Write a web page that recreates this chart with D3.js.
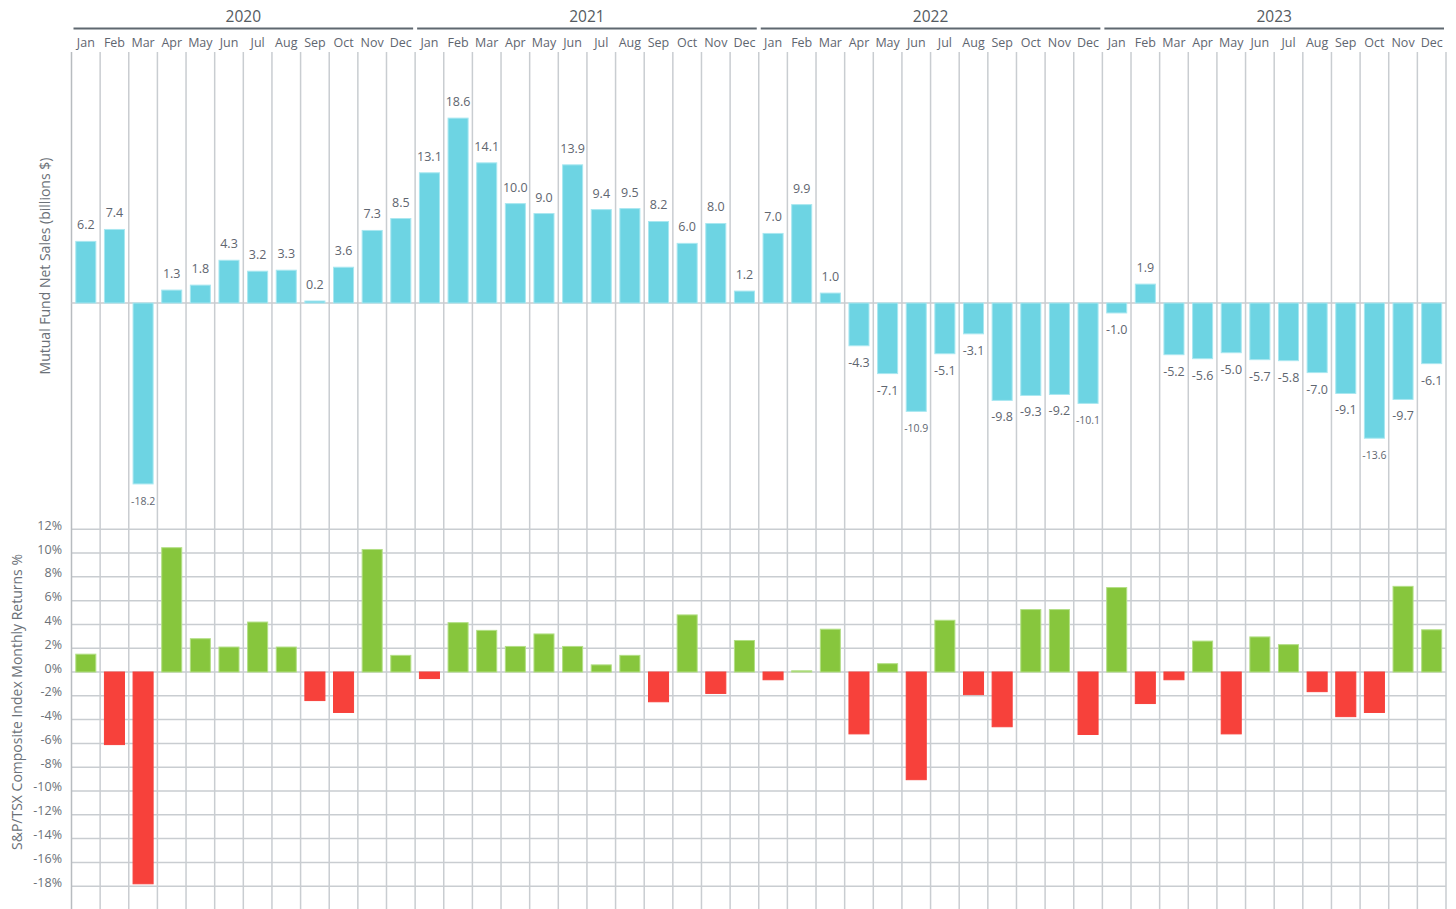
<!DOCTYPE html>
<html>
<head>
<meta charset="utf-8">
<script src="https://cdn.jsdelivr.net/npm/d3@7"></script>
<style>
  body { margin: 0; background: #fff; }
  svg text { font-family: "Open Sans", "Noto Sans", sans-serif; }
</style>
</head>
<body>
<svg id="chart" width="1456" height="909"></svg>
<script>
// data
const years = ['2020', '2021', '2022', '2023'];
const months = ['Jan', 'Feb', 'Mar', 'Apr', 'May', 'Jun', 'Jul', 'Aug', 'Sep', 'Oct', 'Nov', 'Dec'];

// mutual fund net sales, billions $
const netSales = [
  6.2, 7.4, -18.2, 1.3, 1.8, 4.3, 3.2, 3.3, 0.2, 3.6, 7.3, 8.5,
  13.1, 18.6, 14.1, 10.0, 9.0, 13.9, 9.4, 9.5, 8.2, 6.0, 8.0, 1.2,
  7.0, 9.9, 1.0, -4.3, -7.1, -10.9, -5.1, -3.1, -9.8, -9.3, -9.2, -10.1,
  -1.0, 1.9, -5.2, -5.6, -5.0, -5.7, -5.8, -7.0, -9.1, -13.6, -9.7, -6.1
];

// S&P/TSX composite monthly returns, %
const tsxReturns = [
  1.5, -6.1, -17.8, 10.45, 2.8, 2.1, 4.2, 2.1, -2.4, -3.4, 10.3, 1.4,
  -0.55, 4.15, 3.5, 2.15, 3.2, 2.15, 0.6, 1.4, -2.5, 4.8, -1.8, 2.65,
  -0.65, 0.1, 3.6, -5.2, 0.7, -9.05, 4.35, -1.9, -4.6, 5.25, 5.25, -5.25,
  7.1, -2.65, -0.65, 2.6, -5.2, 2.95, 2.3, -1.65, -3.75, -3.4, 7.2, 3.55
];

const returnTicks = [-18, -16, -14, -12, -10, -8, -6, -4, -2, 0, 2, 4, 6, 8, 10, 12];

const svg = d3.select('#chart');
const left = 71.5, right = 1446;
const gridColor = '#c9cdd1';
const textColor = '#5f6670';

const idx = d3.range(netSales.length);
const x = d3.scaleBand().domain(idx).range([left, right]).paddingInner(0.3).paddingOuter(0.15);
const step = x.step();
const colStart = i => x(i) - step * 0.15;

const yTop = d3.scaleLinear().domain([-22, 25]).range([521.7, 54.5]);
const yBot = d3.scaleLinear().domain([-19.7, 12.5]).range([906.4, 523.3]);

// horizontal grid for returns
svg.append('g')
  .selectAll('line')
  .data(returnTicks)
  .join('line')
  .attr('x1', left).attr('x2', right)
  .attr('y1', d => yBot(d)).attr('y2', d => yBot(d))
  .attr('stroke', gridColor).attr('stroke-width', 1.5);

// vertical column grid
svg.append('g')
  .selectAll('line')
  .data(d3.range(netSales.length + 1))
  .join('line')
  .attr('x1', i => i === 0 ? left : (i === netSales.length ? right : colStart(i)))
  .attr('x2', i => i === 0 ? left : (i === netSales.length ? right : colStart(i)))
  .attr('y1', 52).attr('y2', 909)
  .attr('stroke', (d, i) => i === 0 ? '#b8bcc0' : gridColor)
  .attr('stroke-width', 1.5);

// zero line top chart
svg.append('line')
  .attr('x1', left).attr('x2', right)
  .attr('y1', yTop(0)).attr('y2', yTop(0))
  .attr('stroke', gridColor).attr('stroke-width', 1.5);

// top bars
svg.append('g')
  .selectAll('rect')
  .data(netSales)
  .join('rect')
  .attr('x', (d, i) => x(i))
  .attr('width', x.bandwidth())
  .attr('y', d => yTop(Math.max(0, d)))
  .attr('height', d => Math.max(1, Math.abs(yTop(d) - yTop(0))))
  .attr('fill', '#6dd4e3')
  .attr('stroke', '#a9e7f0')
  .attr('stroke-width', 1);

// top labels
svg.append('g')
  .selectAll('text')
  .data(netSales)
  .join('text')
  .attr('x', (d, i) => x(i) + x.bandwidth() / 2)
  .attr('y', d => d >= 0 ? yTop(d) - 12 : yTop(d) + 21)
  .attr('text-anchor', 'middle')
  .attr('fill', textColor)
  .style('font-size', d => d.toFixed(1).length > 4 ? '10.5px' : '12.5px')
  .text(d => d.toFixed(1));

// bottom bars
svg.append('g')
  .selectAll('rect')
  .data(tsxReturns)
  .join('rect')
  .attr('x', (d, i) => x(i))
  .attr('width', x.bandwidth())
  .attr('y', d => yBot(Math.max(0, d)))
  .attr('height', d => Math.abs(yBot(d) - yBot(0)))
  .attr('fill', d => d >= 0 ? '#87c63d' : '#f7413b')
  .attr('stroke', d => d >= 0 ? '#b3df86' : '#f7413b')
  .attr('stroke-width', 1);

// bottom tick labels
svg.append('g')
  .selectAll('text')
  .data(returnTicks)
  .join('text')
  .attr('x', 62)
  .attr('y', d => yBot(d) + 0.5)
  .attr('text-anchor', 'end')
  .attr('fill', '#6b7178')
  .style('font-size', '12.5px')
  .text(d => d + '%');

// header: years
years.forEach((yr, k) => {
  const x0 = colStart(k * 12), x1 = k === years.length - 1 ? right : colStart(k * 12 + 12);
  svg.append('line')
    .attr('x1', x0 + 2).attr('x2', x1 - 2)
    .attr('y1', 28.5).attr('y2', 28.5)
    .attr('stroke', '#5f6870').attr('stroke-width', 2);
  svg.append('text')
    .attr('x', (x0 + x1) / 2).attr('y', 21.5)
    .attr('text-anchor', 'middle')
    .attr('fill', '#555b61')
    .style('font-size', '15.5px')
    .text(yr);
});

// header: months
svg.append('g')
  .selectAll('text')
  .data(idx)
  .join('text')
  .attr('x', i => x(i) + x.bandwidth() / 2)
  .attr('y', 47)
  .attr('text-anchor', 'middle')
  .attr('fill', textColor)
  .style('font-size', '12.5px')
  .text(i => months[i % 12]);

// axis titles
svg.append('text')
  .attr('transform', 'translate(50,266) rotate(-90)')
  .attr('text-anchor', 'middle')
  .attr('fill', '#6b7178')
  .style('font-size', '14px')
  .text('Mutual Fund Net Sales (billions $)');

svg.append('text')
  .attr('transform', 'translate(22,702) rotate(-90)')
  .attr('text-anchor', 'middle')
  .attr('fill', '#6b7178')
  .style('font-size', '14px')
  .text('S&P/TSX Composite Index Monthly Returns %');
</script>
</body>
</html>
